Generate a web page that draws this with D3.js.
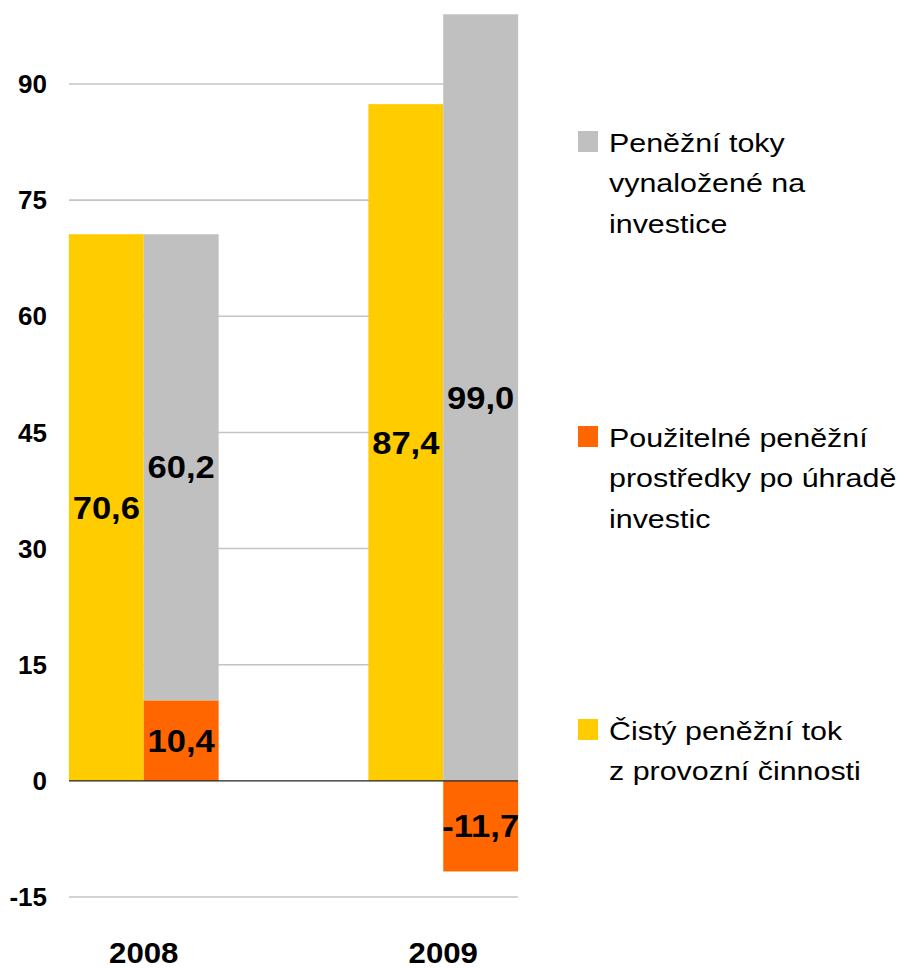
<!DOCTYPE html>
<html>
<head>
<meta charset="utf-8">
<script src="https://cdn.jsdelivr.net/npm/d3@7"></script>
<style>
	body { margin: 0; background: #fff; }
	svg { display: block; font-family: "Liberation Sans", Arial, sans-serif; }
</style>
</head>
<body>
<div id="chart"></div>
<script>
// data
const years = ["2008", "2009"];
const cistyTok = [70.6, 87.4];      // Čistý peněžní tok z provozní činnosti
const pouzitelne = [10.4, -11.7];   // Použitelné peněžní prostředky po úhradě investic
const investice = [60.2, 99.0];     // Peněžní toky vynaložené na investice
const yTicks = [-15, 0, 15, 30, 45, 60, 75, 90];

const legendItems = [
	{ lines: ["Peněžní toky", "vynaložené na", "investice"], color: "#C0C0C0", y: 152 },
	{ lines: ["Použitelné peněžní", "prostředky po úhradě", "investic"], color: "#FF6600", y: 447 },
	{ lines: ["Čistý peněžní tok", "z provozní činnosti"], color: "#FFCC00", y: 740 }
];

const width = 908, height = 968;
const gridLeft = 69, gridRight = 518;

const svg = d3.select("#chart")
	.append("svg")
	.attr("width", width)
	.attr("height", height);

const y = d3.scaleLinear().domain([-15, 90]).range([897, 84]);

const x = d3.scaleBand()
	.domain(years)
	.range([-6, 593])
	.paddingInner(0.5)
	.paddingOuter(0.25);

const xSub = d3.scaleBand()
	.domain(["cisty", "stack"])
	.range([0, x.bandwidth()]);

// gridlines
svg.append("g")
	.selectAll("line")
	.data(yTicks.filter((t) => t !== 0))
	.enter()
	.append("line")
	.attr("x1", gridLeft)
	.attr("x2", gridRight)
	.attr("y1", (d) => y(d))
	.attr("y2", (d) => y(d))
	.attr("stroke", "#c4c4c4")
	.attr("stroke-width", 1.6);

// y tick labels
svg.append("g")
	.selectAll("text")
	.data(yTicks)
	.enter()
	.append("text")
	.attr("x", 47)
	.attr("y", (d) => y(d))
	.attr("dy", "0.35em")
	.attr("text-anchor", "end")
	.style("font-size", "26px")
	.style("font-weight", "bold")
	.text((d) => d);

// stacked series (diverging so the negative value goes below zero)
const rows = years.map((yr, i) => ({ year: yr, pouzitelne: pouzitelne[i], investice: investice[i] }));
const stack = d3.stack()
	.keys(["pouzitelne", "investice"])
	.offset(d3.stackOffsetDiverging);
const series = stack(rows);
const colors = { pouzitelne: "#FF6600", investice: "#C0C0C0" };

// yellow bars
const bars = svg.append("g");
bars.selectAll("rect.cisty")
	.data(years.map((yr, i) => ({ year: yr, value: cistyTok[i] })))
	.enter()
	.append("rect")
	.attr("x", (d) => x(d.year) + xSub("cisty"))
	.attr("width", xSub.bandwidth())
	.attr("y", (d) => y(d.value))
	.attr("height", (d) => y(0) - y(d.value))
	.attr("fill", "#FFCC00");

series.forEach((s) => {
	bars.selectAll("rect." + s.key)
		.data(s)
		.enter()
		.append("rect")
		.attr("x", (d) => x(d.data.year) + xSub("stack"))
		.attr("width", xSub.bandwidth())
		.attr("y", (d) => y(Math.max(d[0], d[1])))
		.attr("height", (d) => Math.abs(y(d[0]) - y(d[1])))
		.attr("fill", colors[s.key]);
});

// zero line
svg.append("line")
	.attr("x1", gridLeft)
	.attr("x2", gridRight)
	.attr("y1", y(0))
	.attr("y2", y(0))
	.attr("stroke", "#222")
	.attr("stroke-width", 1.3);

// value labels (the original font is a little wider, hence the stretch)
const fmt = (v) => v.toFixed(1).replace(".", ",");
const labels = svg.append("g")
	.style("font-size", "32px")
	.style("font-weight", "bold")
	.attr("text-anchor", "middle");

function valueLabel(cx, cy, txt) {
	labels.append("text")
		.attr("transform", `translate(${cx},${cy}) scale(1.08,1)`)
		.attr("dy", "0.35em")
		.text(txt);
}

years.forEach((yr, i) => {
	valueLabel(x(yr) + xSub("cisty") + xSub.bandwidth() / 2, y(cistyTok[i] / 2), fmt(cistyTok[i]));
});

series.forEach((s) => {
	s.forEach((d) => {
		valueLabel(
			x(d.data.year) + xSub("stack") + xSub.bandwidth() / 2,
			y((d[0] + d[1]) / 2),
			fmt(d.data[s.key])
		);
	});
});

// category labels
svg.append("g")
	.selectAll("text")
	.data(years)
	.enter()
	.append("text")
	.attr("transform", (d) => `translate(${x(d) + x.bandwidth() / 2},963) scale(1.04,1)`)
	.attr("text-anchor", "middle")
	.style("font-size", "30px")
	.style("font-weight", "bold")
	.text((d) => d);

// legend
const legend = svg.append("g");
legendItems.forEach((item) => {
	legend.append("rect")
		.attr("x", 578)
		.attr("y", item.y - 21)
		.attr("width", 20)
		.attr("height", 21)
		.attr("fill", item.color);
	const t = legend.append("text")
		.attr("transform", `translate(609,${item.y}) scale(1.17,1)`)
		.style("font-size", "26px");
	item.lines.forEach((line, j) => {
		t.append("tspan")
			.attr("x", 0)
			.attr("dy", j === 0 ? 0 : 40.5)
			.text(line);
	});
});
</script>
</body>
</html>
